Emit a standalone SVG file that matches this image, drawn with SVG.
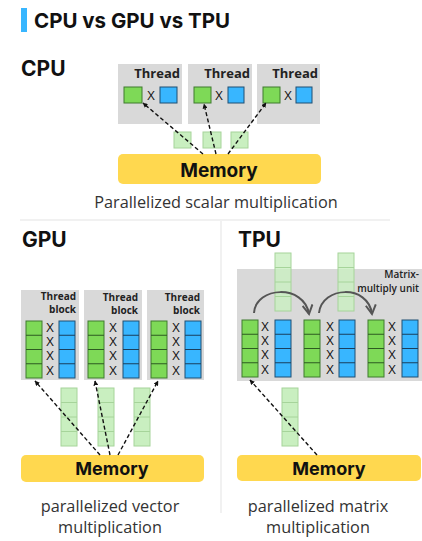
<svg xmlns="http://www.w3.org/2000/svg" width="422" height="541" viewBox="0 0 422 541">
<style>
.bg{fill:#ffffff}
.h{font-family:Inter,"Open Sans","DejaVu Sans",sans-serif;font-weight:700;fill:#111}
.panel{fill:#d9d9d9}
.lbl{font-family:"Open Sans","Liberation Sans",sans-serif;font-weight:700;fill:#222}
.lbl2{font-family:"Open Sans","Liberation Sans",sans-serif;font-weight:600;fill:#222}
.g{fill:#7ed957;stroke:#3f7a2e;stroke-width:1}
.b{fill:#38b6ff;stroke:#1f4f73;stroke-width:1}
.lg{fill:#c9efc0;stroke:#a6d49a;stroke-width:1}
.x{font-family:"Open Sans","Liberation Sans",sans-serif;font-size:13px;fill:#111;text-anchor:middle}
.mem{fill:#ffd84f}
.memt{font-family:Inter,"Open Sans",sans-serif;font-weight:700;fill:#111;text-anchor:middle}
.cap{font-family:"Open Sans","Liberation Sans",sans-serif;fill:#333;text-anchor:middle;font-size:16.3px}
.dash{stroke:#111;stroke-width:1.4;stroke-dasharray:4 2.5;fill:none;marker-end:url(#ah)}
.arc{stroke:#555;stroke-width:2;fill:none;marker-end:url(#vh)}
.div{stroke:#ececec;stroke-width:1.5}
</style>
<defs>
<marker id="ah" viewBox="0 0 10 10" refX="9" refY="5" markerWidth="5" markerHeight="5" orient="auto" markerUnits="userSpaceOnUse">
<path d="M0,0 L10,5 L0,10 z" fill="#111"/>
</marker>
<marker id="vh" viewBox="0 0 12 12" refX="10" refY="6" markerWidth="12" markerHeight="12" orient="auto" markerUnits="userSpaceOnUse">
<path d="M1,1 L10,6 L1,11" fill="none" stroke="#555" stroke-width="2"/>
</marker>
<g id="col4g">
<rect class="g" x="0" y="0" width="16" height="57"/>
<path d="M0,14.25H16M0,28.5H16M0,42.75H16" stroke="#2e5a22" stroke-width="1"/>
</g>
<g id="col4b">
<rect class="b" x="0" y="0" width="16" height="57"/>
<path d="M0,14.25H16M0,28.5H16M0,42.75H16" stroke="#1a3f5c" stroke-width="1"/>
</g>
<g id="col4lg">
<rect class="lg" x="0" y="0" width="16" height="58"/>
<path d="M0,14.5H16M0,29H16M0,43.5H16" stroke="#a6d49a" stroke-width="1"/>
</g>
<g id="xs">
<text class="x" x="0" y="11">X</text>
<text class="x" x="0" y="25">X</text>
<text class="x" x="0" y="39">X</text>
<text class="x" x="0" y="54">X</text>
</g>
</defs>
<rect class="bg" x="0" y="0" width="422" height="541"/>

<g id="title">
<rect x="21" y="8" width="6" height="24" fill="#38b6ff"/>
<text class="h" x="34" y="28" font-size="20.5">CPU vs GPU vs TPU</text>
</g>

<g id="dividers">
<line class="div" x1="20" y1="220" x2="390" y2="220"/>
<line class="div" x1="221" y1="221" x2="221" y2="513"/>
</g>

<!-- CPU -->
<g id="cpu-label"><text class="h" x="21" y="76" font-size="21">CPU</text></g>
<g id="cpu-thread1">
<rect class="panel" x="118" y="64" width="64" height="60"/>
<text class="lbl" x="180" y="78" font-size="13" text-anchor="end">Thread</text>
<rect class="g" x="124" y="87" width="18" height="16"/>
<text class="x" x="151" y="100">X</text>
<rect class="b" x="160" y="87" width="17" height="16"/>
</g>
<g id="cpu-thread2">
<rect class="panel" x="188" y="64" width="64" height="60"/>
<text class="lbl" x="250" y="78" font-size="13" text-anchor="end">Thread</text>
<rect class="g" x="194" y="87" width="17" height="16"/>
<text class="x" x="219" y="100">X</text>
<rect class="b" x="228" y="87" width="16" height="16"/>
</g>
<g id="cpu-thread3">
<rect class="panel" x="257" y="64" width="63" height="60"/>
<text class="lbl" x="318" y="78" font-size="13" text-anchor="end">Thread</text>
<rect class="g" x="263" y="87" width="17" height="16"/>
<text class="x" x="288" y="100">X</text>
<rect class="b" x="296" y="87" width="16" height="16"/>
</g>
<g id="cpu-data">
<rect class="lg" x="174" y="132" width="17" height="16"/>
<rect class="lg" x="203" y="132" width="18" height="16"/>
<rect class="lg" x="231" y="132" width="17" height="16"/>
</g>
<g id="cpu-memory">
<rect class="mem" x="118" y="154" width="203" height="30" rx="5"/>
<text class="memt" x="219" y="177" font-size="19">Memory</text>
</g>
<g id="cpu-caption"><text class="cap" x="216" y="208">Parallelized scalar multiplication</text></g>

<!-- GPU -->
<g id="gpu-label"><text class="h" x="22" y="247" font-size="21">GPU</text></g>
<g id="gpu-block1">
<rect class="panel" x="21" y="290" width="58" height="90"/>
<text class="lbl" x="76" y="300" font-size="10" text-anchor="end">Thread</text>
<text class="lbl" x="76" y="313" font-size="10" text-anchor="end">block</text>
<use href="#col4g" x="26" y="321"/>
<use href="#xs" x="50" y="321"/>
<use href="#col4b" x="59" y="321"/>
</g>
<g id="gpu-block2">
<rect class="panel" x="84" y="290" width="58" height="90"/>
<text class="lbl" x="138" y="301" font-size="10" text-anchor="end">Thread</text>
<text class="lbl" x="138" y="314" font-size="10" text-anchor="end">block</text>
<use href="#col4g" x="88" y="321"/>
<use href="#xs" x="113" y="321"/>
<use href="#col4b" x="123" y="321"/>
</g>
<g id="gpu-block3">
<rect class="panel" x="147" y="290" width="57" height="90"/>
<text class="lbl" x="200" y="301" font-size="10" text-anchor="end">Thread</text>
<text class="lbl" x="200" y="314" font-size="10" text-anchor="end">block</text>
<use href="#col4g" x="151" y="321"/>
<use href="#xs" x="176" y="321"/>
<use href="#col4b" x="185" y="321"/>
</g>
<g id="gpu-data">
<use href="#col4lg" x="61" y="388"/>
<use href="#col4lg" x="98" y="388"/>
<use href="#col4lg" x="134" y="388"/>
</g>
<g id="gpu-memory">
<rect class="mem" x="21" y="455" width="183" height="27" rx="5"/>
<text class="memt" x="112" y="475" font-size="18">Memory</text>
</g>
<g id="gpu-caption">
<text class="cap" x="110" y="512">parallelized vector</text>
<text class="cap" x="110" y="533">multiplication</text>
</g>

<!-- TPU -->
<g id="tpu-label"><text class="h" x="238" y="247" font-size="21">TPU</text></g>
<g id="tpu-mmu">
<rect class="panel" x="237" y="269" width="185" height="112"/>
<text class="lbl2" x="419" y="278" font-size="10" text-anchor="end">Matrix-</text>
<text class="lbl2" x="419" y="292" font-size="10" text-anchor="end">multiply unit</text>
<use href="#col4g" x="242" y="320"/>
<use href="#xs" x="265" y="320"/>
<use href="#col4b" x="275" y="320"/>
<use href="#col4g" x="304" y="320"/>
<use href="#xs" x="330" y="320"/>
<use href="#col4b" x="339" y="320"/>
<use href="#col4g" x="368" y="320"/>
<use href="#xs" x="392" y="320"/>
<use href="#col4b" x="402" y="320"/>
</g>
<g id="tpu-data-top">
<rect x="275" y="253" width="16" height="58" fill="#c9efc0" fill-opacity="0.8" stroke="#a6d49a"/>
<path d="M275,267.5H291M275,282H291M275,296.5H291" stroke="#a6d49a"/>
<rect x="338" y="253" width="16" height="58" fill="#c9efc0" fill-opacity="0.8" stroke="#a6d49a"/>
<path d="M338,267.5H354M338,282H354M338,296.5H354" stroke="#a6d49a"/>
</g>
<g id="tpu-data">
<use href="#col4lg" x="282" y="388"/>
</g>
<g id="tpu-memory">
<rect class="mem" x="237" y="455" width="184" height="26" rx="5"/>
<text class="memt" x="329" y="475" font-size="18">Memory</text>
</g>
<g id="tpu-caption">
<text class="cap" x="318" y="512">parallelized matrix</text>
<text class="cap" x="318" y="533">multiplication</text>
</g>

<g id="connectors">
<path class="dash" d="M203,154 L143,103"/>
<path class="dash" d="M216,154 L204,104"/>
<path class="dash" d="M228,154 L266,103"/>
<path class="dash" d="M100,455 L35,381"/>
<path class="dash" d="M110,455 L95,381"/>
<path class="dash" d="M118,455 L158,381"/>
<path class="dash" d="M317,455 L250,380"/>
<path class="arc" d="M254,313 C256,286 304,284 309,314"/>
<path class="arc" d="M319,313 C322,286 368,284 372,314"/>
</g>
</svg>
